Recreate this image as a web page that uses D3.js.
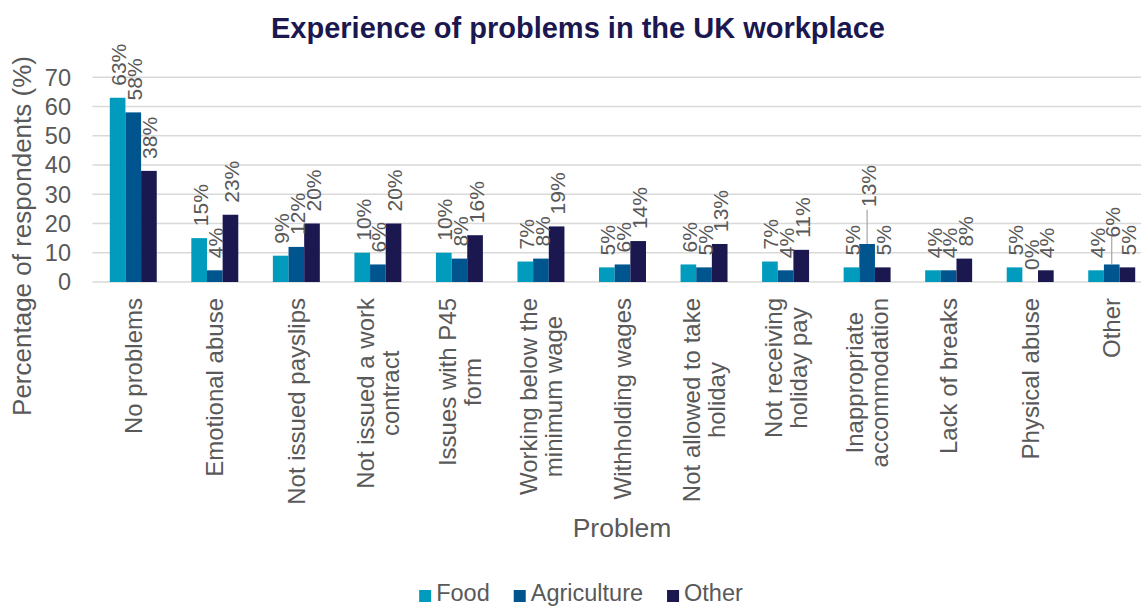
<!DOCTYPE html>
<meta charset="utf-8">
<style>
  body { margin: 0; background: #fff; }
  text { font-family: "Liberation Sans", Arial, sans-serif; }
</style>
<script src="https://d3js.org/d3.v7.min.js"></script>
<div id="chart"></div>
<script>

// chart data
var categories = ["No problems", "Emotional abuse", "Not issued payslips",
  "Not issued a work contract", "Issues with P45 form", "Working below the minimum wage",
  "Withholding wages", "Not allowed to take holiday", "Not receiving holiday pay",
  "Inappropriate accommodation", "Lack of breaks", "Physical abuse", "Other"];
var tickLines = [["No problems"], ["Emotional abuse"], ["Not issued payslips"],
  ["Not issued a work", "contract"], ["Issues with P45", "form"], ["Working below the", "minimum wage"],
  ["Withholding wages"], ["Not allowed to take", "holiday"], ["Not receiving", "holiday pay"],
  ["Inappropriate", "accommodation"], ["Lack of breaks"], ["Physical abuse"], ["Other"]];
var seriesNames = ["Food", "Agriculture", "Other"];
var food        = [63, 15, 9, 10, 10, 7, 5, 6, 7, 5, 4, 5, 4];
var agriculture = [58, 4, 12, 6, 8, 8, 6, 5, 4, 13, 4, 0, 6];
var other       = [38, 23, 20, 20, 16, 19, 14, 13, 11, 5, 8, 4, 5];
var yTicks = [0, 10, 20, 30, 40, 50, 60, 70];

// labels Excel pushed up with a leader line
var lifted = {"Inappropriate accommodation|Agriculture": 25, "Other|Agriculture": 15};

var W = 1141, H = 607;
var colors = {"Food": "#009bbd", "Agriculture": "#00558f", "Other": "#1b1850"};
var grey = "#595959";

var svg = d3.select("#chart").append("svg")
    .attr("width", W).attr("height", H);

var rows = categories.map(function(c, i) {
  return {cat: c, lines: tickLines[i], vals: [food[i], agriculture[i], other[i]]};
});

var x0 = d3.scaleBand()
    .domain(categories)
    .range([92.5, 1152.5])
    .paddingInner(0.424)
    .paddingOuter(0.212);
var x1 = d3.scaleBand()
    .domain(seriesNames)
    .range([0, x0.bandwidth()]);
var y = d3.scaleLinear()
    .domain([0, 70])
    .range([282, 77.3]);

// gridlines
svg.append("g")
  .selectAll("line")
  .data(yTicks)
  .enter().append("line")
    .attr("x1", 92.5).attr("x2", 1152.5)
    .attr("y1", function(d) { return y(d); })
    .attr("y2", function(d) { return y(d); })
    .style("stroke", "#d9d9d9")
    .style("stroke-width", 1.5);

// y tick labels
svg.append("g")
  .selectAll("text")
  .data(yTicks)
  .enter().append("text")
    .attr("x", 71)
    .attr("y", function(d) { return y(d); })
    .attr("dy", "0.36em")
    .attr("text-anchor", "end")
    .style("font-size", "23.5px")
    .style("fill", grey)
    .text(function(d) { return d; });

// bars
var groups = svg.append("g")
  .selectAll("g")
  .data(rows)
  .enter().append("g")
    .attr("transform", function(d) { return "translate(" + x0(d.cat) + ",0)"; });

groups.selectAll("rect")
  .data(function(d) { return seriesNames.map(function(s, j) { return {cat: d.cat, s: s, v: d.vals[j]}; }); })
  .enter().append("rect")
    .attr("x", function(d) { return x1(d.s); })
    .attr("y", function(d) { return y(d.v); })
    .attr("width", x1.bandwidth())
    .attr("height", function(d) { return y(0) - y(d.v); })
    .style("fill", function(d) { return colors[d.s]; });

// value labels
var labels = groups.selectAll("g.lab")
  .data(function(d) { return seriesNames.map(function(s, j) { return {cat: d.cat, s: s, v: d.vals[j]}; }); })
  .enter().append("g")
    .attr("class", "lab");

labels.each(function(d) {
  var g = d3.select(this);
  var cx = x1(d.s) + x1.bandwidth() / 2;
  var lift = lifted[d.cat + "|" + d.s] || 0;
  var top = y(d.v) - 12 - lift;
  if (lift) {
    g.append("line")
      .attr("x1", cx).attr("x2", cx)
      .attr("y1", y(d.v)).attr("y2", top - 11 + lift * 0.55)
      .style("stroke", "#a6a6a6")
      .style("stroke-width", 1.2);
  }
  g.append("text")
    .attr("transform", "translate(" + (cx + 1) + "," + top + ") rotate(-90)")
    .attr("dy", "0.36em")
    .style("font-size", "21px")
    .style("fill", grey)
    .text(d.v + "%");
});

// category labels, rotated, wrapped lines centred
var lineH = 25;
groups.each(function(d) {
  var cx = x0.bandwidth() / 2;
  var g = d3.select(this).append("g")
    .attr("transform", "translate(" + cx + ",298) rotate(-90)");
  var texts = g.selectAll("text")
    .data(d.lines)
    .enter().append("text")
      .attr("y", function(t, i) { return (i - (d.lines.length - 1) / 2) * lineH; })
      .attr("dy", "0.36em")
      .attr("text-anchor", "middle")
      .style("font-size", "24px")
      .style("fill", grey)
      .text(function(t) { return t; });
  var maxW = d3.max(texts.nodes(), function(n) { return n.getComputedTextLength(); });
  texts.attr("x", -maxW / 2);
});

// axis titles
svg.append("text")
    .attr("transform", "translate(22,236) rotate(-90)")
    .attr("dy", "0.36em")
    .attr("text-anchor", "middle")
    .style("font-size", "26px")
    .style("fill", grey)
    .text("Percentage of respondents (%)");

svg.append("text")
    .attr("x", 622).attr("y", 537)
    .attr("text-anchor", "middle")
    .style("font-size", "26.5px")
    .style("fill", grey)
    .text("Problem");

// title
svg.append("text")
    .attr("x", 578).attr("y", 38)
    .attr("text-anchor", "middle")
    .style("font-size", "29px")
    .style("font-weight", "bold")
    .style("fill", "#1b1850")
    .text("Experience of problems in the UK workplace");

// legend
var legend = svg.append("g");
var lx = 0;
seriesNames.forEach(function(s) {
  legend.append("rect")
    .attr("x", lx).attr("y", 590)
    .attr("width", 12).attr("height", 12)
    .style("fill", colors[s]);
  var t = legend.append("text")
    .attr("x", lx + 17).attr("y", 601)
    .style("font-size", "23.5px")
    .style("fill", grey)
    .text(s);
  lx += 17 + t.node().getComputedTextLength() + 24;
});
var legW = lx - 24;
legend.attr("transform", "translate(" + (581 - legW / 2) + ",0)");

</script>
